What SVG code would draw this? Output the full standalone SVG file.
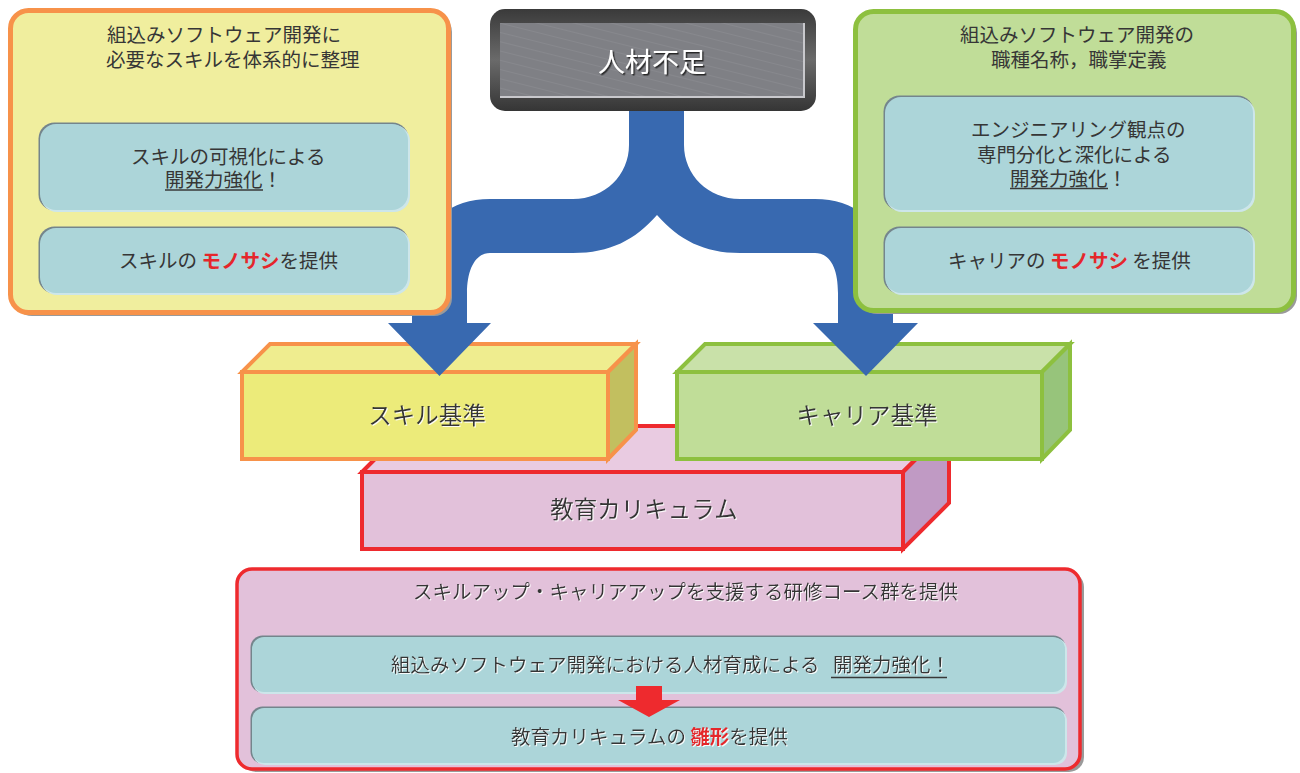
<svg xmlns="http://www.w3.org/2000/svg" width="1300" height="773" viewBox="0 0 1300 773">
<style>
text{font-family:"Noto Sans CJK JP","Noto Sans",sans-serif;fill:#363636}
.t19{font-size:19.5px}
.t23{font-size:23.5px}
.red{fill:#e5262b;font-weight:bold}
.sh{filter:url(#wsh)}
.inner-dark{fill:#74858c}
.inner-light{fill:#cde6ea}
.inner{fill:#acd5d9}
.ul{stroke:#383838;stroke-width:1.3}
.shadow{fill:#9a9a9a}
.redarrow{fill:#ee2a2e}
</style>
<defs>
<filter id="wsh" x="-5%" y="-20%" width="110%" height="140%"><feDropShadow dx="1" dy="1" stdDeviation="0.3" flood-color="#ffffff" flood-opacity="0.9"/></filter>
<filter id="dsh" x="-5%" y="-20%" width="110%" height="140%"><feDropShadow dx="1.5" dy="1.5" stdDeviation="0.5" flood-color="#1e1e1e" flood-opacity="0.9"/></filter>
<linearGradient id="frame" x1="0" y1="0" x2="0" y2="1">
<stop offset="0" stop-color="#3a3a3a"/><stop offset="0.5" stop-color="#6a6a6a"/><stop offset="1" stop-color="#353535"/>
</linearGradient>
<pattern id="stripes" width="12" height="9" patternUnits="userSpaceOnUse" patternTransform="rotate(14)">
<rect width="12" height="9" fill="#7f8085"/><line x1="0" y1="0.5" x2="12" y2="0.5" stroke="#87888d" stroke-width="1"/>
</pattern>
</defs>

<!-- 3D boxes -->
<g id="curriculum" stroke="#ee2a2e" stroke-width="4" stroke-linejoin="miter">
<polygon points="362,472 408,426 949,426 903,472" fill="#e9cbe1"/>
<polygon points="903,472 949,426 949,503 903,549" fill="#c09ac4"/>
<rect x="362" y="472" width="541" height="77" fill="#e2c1da"/>
<text class="t23 sh" x="644" y="517.5" text-anchor="middle" stroke="none">教育カリキュラム</text>
</g>
<g id="skill-std" stroke="#f7924a" stroke-width="4" stroke-linejoin="miter">
<polygon points="242,372 270,344 636,344 608,372" fill="#efed8f"/>
<polygon points="608,372 636,344 636,430 608,459" fill="#c2bf5f"/>
<rect x="242" y="372" width="366" height="87" fill="#eceb7a"/>
<text class="t23 sh" x="427" y="423.5" text-anchor="middle" stroke="none">スキル基準</text>
</g>
<g id="career-std" stroke="#8dc03f" stroke-width="4" stroke-linejoin="miter">
<polygon points="677,372 705,344 1070,344 1042,372" fill="#c9e1a9"/>
<polygon points="1042,372 1070,344 1070,430 1042,459" fill="#97c47b"/>
<rect x="677" y="372" width="365" height="87" fill="#c0dd98"/>
<text class="t23 sh" x="867" y="424" text-anchor="middle" stroke="none">キャリア基準</text>
</g>

<!-- connectors -->
<g id="connectors">
<path fill="#3869b0" d="M629,104 L629,145 C629,175 605,199 573,199 L490,199 C440,199 412,235 412,285 L412,323 L388,323 L439.5,376 L491,323 L467,323 L467,293 C467,270 475,253 490,253 L573,253 C610,253 635,240 657,215 C679,240 704,253 740,253 L815,253 C830,253 838,268 838,293 L838,323 L813,323 L866,376 L918,323 L893,323 L893,285 C893,235 865,199 815,199 L740,199 C708,199 684,175 684,145 L684,104 Z"/>
<polygon class="redarrow" points="209.5,204 232.5,204 232.5,219 244,219 221,235 198,219 209.5,219"/>
<polygon class="redarrow" points="1055.5,204 1078.5,204 1078.5,219 1090,219 1067,235 1044,219 1055.5,219"/>
</g>

<!-- top-left panel -->
<g id="skill-panel">
<rect class="shadow" x="14" y="14" width="438" height="302" rx="18"/>
<rect x="10.5" y="10.5" width="438" height="302" rx="18" fill="#f0ee9e" stroke="#f7924a" stroke-width="5"/>
<text class="t19"><tspan x="107" y="41.5">組込みソフトウェア開発に</tspan><tspan x="106" y="66.5">必要なスキルを体系的に整理</tspan></text>
<g id="skill-visual">
<rect class="inner-dark" x="38.5" y="122.5" width="370" height="88" rx="16"/>
<rect class="inner-light" x="41" y="125" width="369" height="87" rx="16"/>
<rect class="inner" x="40" y="124" width="368" height="86" rx="16"/>
<text class="t19"><tspan x="131" y="163.5">スキルの可視化による</tspan><tspan x="165" y="186.5">開発力強化！</tspan></text>
<line class="ul" x1="165" y1="190" x2="263" y2="190"/>
</g>
<g id="skill-measure">
<rect class="inner-dark" x="38.5" y="226.5" width="370" height="67" rx="16"/>
<rect class="inner-light" x="41" y="229" width="369" height="66" rx="16"/>
<rect class="inner" x="40" y="228" width="368" height="65" rx="16"/>
<text class="t19" x="119" y="267.5">スキルの <tspan class="red">モノサシ</tspan>を提供</text>
</g>
</g>

<!-- top-right panel -->
<g id="career-panel">
<rect class="shadow" x="859" y="15" width="438" height="299" rx="18"/>
<rect x="855.5" y="11.5" width="438" height="299" rx="18" fill="#c0dd98" stroke="#8dc03f" stroke-width="5"/>
<text class="t19"><tspan x="960" y="41.5">組込みソフトウェア開発の</tspan><tspan x="991" y="66.5">職種名称，職掌定義</tspan></text>
<g id="career-special">
<rect class="inner-dark" x="883.5" y="95.5" width="370" height="115" rx="16"/>
<rect class="inner-light" x="886" y="98" width="369" height="114" rx="16"/>
<rect class="inner" x="885" y="97" width="368" height="113" rx="16"/>
<text class="t19"><tspan x="971" y="137">エンジニアリング観点の</tspan><tspan x="977" y="161.5">専門分化と深化による</tspan><tspan x="1010" y="185.5">開発力強化！</tspan></text>
<line class="ul" x1="1010" y1="188.5" x2="1108" y2="188.5"/>
</g>
<g id="career-measure">
<rect class="inner-dark" x="883.5" y="226.5" width="370" height="67" rx="16"/>
<rect class="inner-light" x="886" y="229" width="369" height="66" rx="16"/>
<rect class="inner" x="885" y="228" width="368" height="65" rx="16"/>
<text class="t19" x="948" y="267.5">キャリアの <tspan class="red">モノサシ</tspan> を提供</text>
</g>
</g>

<!-- top center -->
<g id="shortage">
<rect x="490" y="9" width="326" height="102" rx="15" fill="url(#frame)"/>
<rect x="500" y="23" width="305" height="75" fill="#c8c8cc"/>
<rect x="500" y="23" width="303" height="73" fill="url(#stripes)"/>
<text x="652" y="72" text-anchor="middle" style="font-size:27px;fill:#ffffff;filter:url(#dsh)">人材不足</text>
</g>

<!-- bottom panel -->
<g id="course-panel">
<rect class="shadow" x="241" y="572" width="843" height="200" rx="15"/>
<rect x="237" y="569" width="843" height="200" rx="15" fill="#e2c1da" stroke="#ee2a2e" stroke-width="3.5"/>
<text class="t19 sh" x="413" y="598.5">スキルアップ・キャリアアップを支援する研修コース群を提供</text>
<g id="course-dev">
<rect class="inner-dark" x="250.5" y="635.5" width="815" height="57" rx="12"/>
<rect class="inner-light" x="253" y="638" width="814" height="56" rx="12"/>
<rect class="inner" x="252" y="637" width="813" height="55" rx="12"/>
<text class="t19 sh" x="391" y="671.5">組込みソフトウェア開発における人材育成による<tspan x="833">開発力強化！</tspan></text>
<line class="ul" x1="831" y1="677.5" x2="947" y2="677.5"/>
</g>
<g id="course-template">
<rect class="inner-dark" x="250.5" y="706.5" width="815" height="57" rx="12"/>
<rect class="inner-light" x="253" y="709" width="814" height="56" rx="12"/>
<rect class="inner" x="252" y="708" width="813" height="55" rx="12"/>
<text class="t19 sh" x="511" y="743.5">教育カリキュラムの <tspan class="red">雛形</tspan>を提供</text>
</g>
<polygon class="redarrow" points="636,686 662,686 662,700 680,700 649,717 618,700 636,700"/>
</g>
</svg>
